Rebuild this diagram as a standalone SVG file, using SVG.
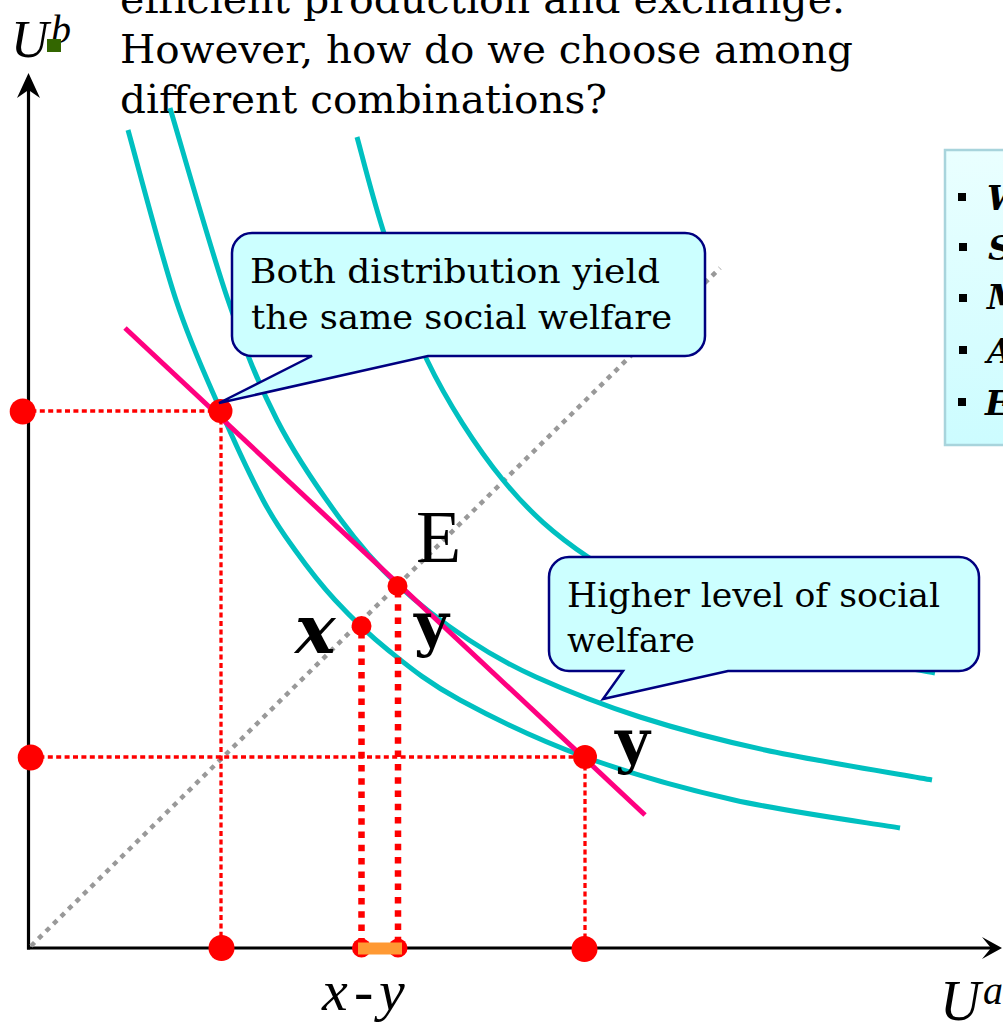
<svg xmlns="http://www.w3.org/2000/svg" width="1003" height="1026" viewBox="0 0 1003 1026">
<defs>
<style>
.serif{font-family:"DejaVu Serif","Liberation Serif",serif;fill:#000}
.times{font-family:"Liberation Serif","DejaVu Serif",serif;fill:#000}
.curve{fill:none;stroke:#00C0C0;stroke-width:5;stroke-linecap:butt}
.thin{stroke:#FF0000;stroke-width:3.3;stroke-dasharray:5 3.4;fill:none}
.thick{stroke:#FF0000;stroke-width:6.5;stroke-dasharray:6.5 6.8;fill:none}
.dot{fill:#FF0000}
.callout{fill:#CCFFFF;stroke:#000080;stroke-width:2.5;stroke-linejoin:miter}
.bullet{fill:#000}
</style>
<linearGradient id="panelGrad" x1="0" y1="0" x2="0" y2="1">
<stop offset="0" stop-color="#EAFFFF"/>
<stop offset="1" stop-color="#CCFCFF"/>
</linearGradient>
</defs>
<rect width="1003" height="1026" fill="#FFFFFF"/>

<!-- top text -->
<g id="intro-text" class="serif" font-size="40">
<text x="120" y="13" textLength="725" lengthAdjust="spacingAndGlyphs">efficient production and exchange.</text>
<text x="120" y="63" textLength="733" lengthAdjust="spacingAndGlyphs">However, how do we choose among</text>
<text x="120" y="113" textLength="487" lengthAdjust="spacingAndGlyphs">different combinations?</text>
</g>

<!-- right panel (cut off) -->
<g id="side-panel">
<rect x="945" y="150" width="70" height="295" fill="url(#panelGrad)" stroke="#A8D4DC" stroke-width="2.5"/>
<rect class="bullet" x="958" y="193" width="8" height="8"/>
<rect class="bullet" x="959" y="243" width="8" height="8"/>
<rect class="bullet" x="959" y="294" width="8" height="8"/>
<rect class="bullet" x="959" y="346" width="8" height="8"/>
<rect class="bullet" x="958" y="398" width="8" height="8"/>
<g class="serif" font-size="34" font-weight="bold" font-style="italic">
<text x="987" y="210">W</text>
<text x="988" y="260">S</text>
<text x="987" y="309">M</text>
<text x="987" y="363">A</text>
<text x="985" y="415">E</text>
</g>
</g>

<!-- axes -->
<g id="axes">
<line x1="28.5" y1="949.5" x2="28.5" y2="90" stroke="#000" stroke-width="3.2"/>
<path d="M28.5,73 L40,98 L28.5,90 L17,98 Z" fill="#000"/>
<line x1="27" y1="948" x2="991" y2="948" stroke="#000" stroke-width="3.2"/>
<path d="M1002,948 L982,959 L991,948 L982,937 Z" fill="#000"/>
</g>

<!-- 45 degree line -->
<g id="diagonal">
<line x1="31" y1="946" x2="720" y2="268" stroke="#999999" stroke-width="4.5" stroke-dasharray="5 5.5"/>
</g>

<!-- indifference / welfare curves -->
<g id="curves">
<path id="curve-1" class="curve" d="M128,130 C136,158.3 160.5,253.2 176,300 C191.5,346.8 206.5,377.7 221,411 C235.5,444.3 250.7,476.8 263,500 C275.3,523.2 283,533.3 295,550 C307,566.7 319.5,583.3 335,600 C350.5,616.7 367.2,633.3 388,650 C408.8,666.7 427.2,682.2 460,700 C492.8,717.8 539.3,740.3 585,757 C630.7,773.7 681.5,788.2 734,800 C786.5,811.8 872.3,823.3 900,828"/>
<path id="curve-2" class="curve" d="M170,108 C179.7,140 210.2,248 228,300 C245.8,352 258.2,383.3 277,420 C295.8,456.7 320.8,492.5 341,520 C361.2,547.5 376.7,565 398,585 C419.3,605 446,624.7 469,640 C492,655.3 507.5,664.2 536,677 C564.5,689.8 601.8,704.8 640,717 C678.2,729.2 716.3,739.5 765,750 C813.7,760.5 904.2,775 932,780"/>
<path id="curve-3" class="curve" d="M357,137 C361.3,152.5 371.3,192.8 383,230 C394.7,267.2 407,318.3 427,360 C447,401.7 476.2,447.2 503,480 C529.8,512.8 555.2,535 588,557 C620.8,579 661.3,596.3 700,612 C738.7,627.7 780.8,640.8 820,651 C859.2,661.2 915.8,669.3 935,673"/>
</g>

<!-- welfare line -->
<g id="welfare-line">
<line x1="125" y1="328" x2="645" y2="815" stroke="#FF0080" stroke-width="5"/>
</g>

<!-- connectors: dotted projections -->
<g id="connectors">
<line class="thin" x1="23" y1="411" x2="221" y2="411"/>
<line class="thin" x1="221" y1="411" x2="221" y2="948"/>
<line class="thin" x1="31" y1="757" x2="585" y2="757"/>
<line class="thin" x1="585" y1="757" x2="585" y2="948"/>
<line class="thick" x1="361.5" y1="632" x2="361.5" y2="948"/>
<line class="thick" x1="398" y1="591" x2="398" y2="948"/>
</g>

<!-- points -->
<g id="points">
<circle class="dot" cx="22.7" cy="411.5" r="13"/>
<circle class="dot" cx="30.7" cy="757.5" r="13"/>
<circle class="dot" cx="220.5" cy="411" r="12"/>
<circle class="dot" cx="585" cy="757" r="12"/>
<circle class="dot" cx="221.5" cy="948" r="13"/>
<circle class="dot" cx="584.5" cy="949" r="13"/>
<circle class="dot" cx="397.5" cy="586" r="10"/>
<circle class="dot" cx="361.5" cy="626" r="10"/>
<circle class="dot" cx="361.5" cy="948" r="9.5"/>
<circle class="dot" cx="398" cy="948" r="9.5"/>
<rect x="358" y="942.5" width="44" height="12" fill="#FF9933"/>
</g>

<!-- callouts -->
<g id="callout-same">
<path class="callout" d="M252,233 H685 A20,20 0 0 1 705,253 V336 A20,20 0 0 1 685,356 H428 L219,403 L312,356 H252 A20,20 0 0 1 232,336 V253 A20,20 0 0 1 252,233 Z"/>
<g class="serif" font-size="33">
<text x="250" y="283" textLength="410" lengthAdjust="spacingAndGlyphs">Both distribution yield</text>
<text x="251" y="329" textLength="421" lengthAdjust="spacingAndGlyphs">the same social welfare</text>
</g>
</g>
<g id="callout-higher">
<path class="callout" d="M569,557 H959 A20,20 0 0 1 979,577 V651 A20,20 0 0 1 959,671 H728 L603,699 L623,671 H569 A20,20 0 0 1 549,651 V577 A20,20 0 0 1 569,557 Z"/>
<g class="serif" font-size="33">
<text x="567" y="607" textLength="373" lengthAdjust="spacingAndGlyphs">Higher level of social</text>
<text x="567" y="652" textLength="128" lengthAdjust="spacingAndGlyphs">welfare</text>
</g>
</g>

<!-- labels -->
<g id="labels">
<g id="label-Ub">
<text class="times" x="11" y="57" font-size="52" font-style="italic">U</text>
<text class="times" x="51" y="43" font-size="40" font-style="italic">b</text>
<rect x="47" y="39" width="14" height="13" fill="#336600"/>
</g>
<g id="label-Ua">
<text class="times" x="940" y="1020" font-size="56" font-style="italic">U</text>
<text class="times" x="983" y="1004" font-size="40" font-style="italic">a</text>
</g>
<text id="label-E" class="times" x="416" y="562" font-size="74">E</text>
<text id="label-x" class="serif" x="295" y="653" font-size="68" font-weight="bold" font-style="italic">x</text>
<text id="label-y1" class="serif" x="414" y="645" font-size="60" font-weight="bold">y</text>
<text id="label-y2" class="serif" x="615" y="762" font-size="60" font-weight="bold">y</text>
<text id="label-xy" class="times" font-size="58" font-style="italic" x="322 354 379" y="1010">x-y</text>
</g>
</svg>
